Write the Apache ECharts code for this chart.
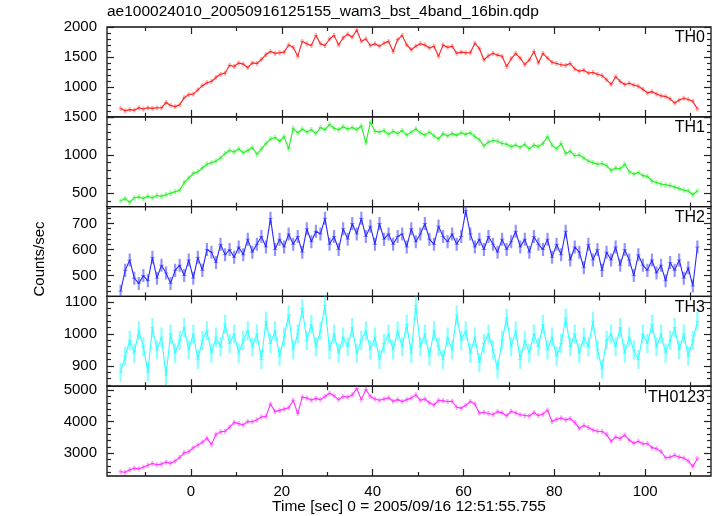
<!DOCTYPE html>
<html><head><meta charset="utf-8">
<script src="https://cdn.jsdelivr.net/npm/echarts@6/dist/echarts.min.js"></script>
<style>html,body{margin:0;padding:0;background:#fff}#c{width:717px;height:516px}</style>
</head><body><div id="c"></div>
<script>
// ---------------- DATA ----------------
const times = [-15.5,-14.5,-13.5,-12.5,-11.5,-10.5,-9.5,-8.5,-7.5,-6.5,-5.5,-4.5,-3.5,-2.5,-1.5,-0.5,
0.5,1.5,2.5,3.5,4.5,5.5,6.5,7.5,8.5,9.5,10.5,11.5,12.5,13.5,14.5,15.5,16.5,17.5,18.5,19.5,
20.5,21.5,22.5,23.5,24.5,25.5,26.5,27.5,28.5,29.5,30.5,31.5,32.5,33.5,34.5,35.5,36.5,37.5,38.5,39.5,
40.5,41.5,42.5,43.5,44.5,45.5,46.5,47.5,48.5,49.5,50.5,51.5,52.5,53.5,54.5,55.5,56.5,57.5,58.5,59.5,
60.5,61.5,62.5,63.5,64.5,65.5,66.5,67.5,68.5,69.5,70.5,71.5,72.5,73.5,74.5,75.5,76.5,77.5,78.5,79.5,
80.5,81.5,82.5,83.5,84.5,85.5,86.5,87.5,88.5,89.5,90.5,91.5,92.5,93.5,94.5,95.5,96.5,97.5,98.5,99.5,
100.5,101.5,102.5,103.5,104.5,105.5,106.5,107.5,108.5,109.5,110.5,111.5];

const th0 = [640,600,620,610,650,630,650,640,650,650,740,690,670,700,820,870,
880,950,1020,1070,1090,1160,1210,1230,1360,1340,1400,1380,1320,1400,1390,1460,1540,1590,1560,1570,
1580,1700,1660,1510,1760,1720,1690,1860,1720,1690,1800,1860,1700,1820,1880,1830,1950,1760,1800,1690,
1720,1680,1730,1760,1590,1790,1860,1700,1620,1680,1720,1700,1650,1680,1510,1700,1660,1680,1560,1580,
1570,1570,1730,1640,1450,1520,1560,1530,1510,1340,1470,1560,1480,1370,1450,1590,1400,1560,1480,1410,
1390,1370,1360,1390,1300,1260,1280,1230,1240,1210,1190,1120,1040,1170,1090,1040,1060,1030,1010,960,
900,920,880,850,840,800,730,780,810,790,760,630];

const th1 = [400,430,380,440,450,430,460,440,470,460,480,500,520,540,640,700,
760,780,830,880,900,920,960,1020,1060,1040,1080,1030,1060,1100,1010,1080,1150,1210,1230,1180,
1240,1080,1350,1290,1340,1300,1330,1280,1360,1330,1400,1350,1330,1370,1340,1360,1330,1380,1160,1430,
1310,1300,1320,1270,1310,1280,1320,1260,1300,1340,1290,1260,1300,1250,1210,1280,1250,1280,1260,1290,
1270,1290,1240,1200,1120,1170,1190,1180,1150,1140,1110,1130,1100,1140,1080,1130,1110,1150,1240,1130,
1080,1150,1020,1050,990,1000,960,920,900,880,890,860,800,830,820,880,780,750,770,730,
720,660,640,620,610,600,580,560,540,530,480,530];

const th2 = [440,520,560,490,470,500,480,570,490,540,510,470,520,540,500,560,
490,570,520,600,590,550,620,580,600,570,610,580,640,590,620,650,610,720,600,640,
610,660,620,650,590,680,630,670,660,720,620,650,600,680,640,700,660,720,650,690,
620,700,640,660,620,650,660,610,680,630,660,700,640,620,690,650,630,660,620,650,
750,660,610,640,600,650,620,590,640,600,630,670,610,640,590,650,620,600,640,570,
620,580,670,560,610,590,530,620,560,600,520,590,560,610,540,600,560,500,580,540,
520,560,510,540,480,550,520,560,490,530,460,610];

const th3 = [880,930,980,940,1010,960,880,1020,950,990,870,1000,940,980,1020,950,
1000,920,980,1010,940,990,960,1030,970,1000,940,980,1010,960,1000,920,1040,970,1010,930,
990,1060,950,1000,1080,980,1030,960,1010,1090,950,1000,940,990,960,1020,940,980,1010,950,
990,920,970,1000,950,1010,960,1030,940,1090,960,1000,930,1010,960,920,990,950,1060,980,
1010,940,990,910,970,1000,950,890,980,1050,960,1010,920,980,940,1000,960,1030,950,990,
930,970,1050,960,1000,940,990,960,1040,950,890,980,1000,960,1020,940,990,950,920,1000,
970,1030,960,1000,940,980,1020,950,1000,930,980,1040];

const th0123 = [2420,2400,2480,2530,2510,2560,2620,2680,2640,2660,2720,2690,2760,2870,3020,3050,
3180,3260,3350,3480,3280,3600,3680,3700,3830,3980,3940,3900,4010,4000,4060,4150,4170,4560,4320,4360,
4400,4440,4680,4260,4780,4750,4690,4740,4700,4800,4900,4820,4700,4800,4780,4850,5050,4700,5020,4800,
4720,4680,4720,4760,4650,4700,4640,4700,4750,4850,4680,4720,4600,4530,4680,4660,4640,4650,4460,4430,
4520,4640,4560,4270,4300,4260,4230,4320,4280,4190,4330,4280,4220,4200,4180,4290,4200,4240,4370,4010,
4080,4120,4060,4100,3980,3790,3880,3820,3740,3700,3690,3600,3380,3520,3470,3580,3420,3320,3380,3300,
3310,3180,3150,3060,2860,2880,2940,2880,2850,2760,2580,2840];

// error half-widths (counts/sec)
const errTH0 = 40, errTH1 = 35, errTH2 = 25, errTH3 = 30, errTH0123 = 80;

// tick labels
const xLabelTicks = [0,20,40,60,80,100];
const xMinorTicks = [-10,10,30,50,70,90,110];
const yLabelsTH0 = [1000,1500,2000];
const yLabelsTH1 = [500,1000,1500];
const yLabelsTH2 = [500,600,700];
const yLabelsTH3 = [900,1000,1100];
const yLabelsTH0123 = [3000,4000,5000];

const titleText = 'ae100024010_20050916125155_wam3_bst_4band_16bin.qdp';
const xTitle = 'Time [sec] 0 = 2005/09/16 12:51:55.755';
const yTitle = 'Counts/sec';

// ---------------- LAYOUT / STYLE ----------------
const FONT = "'Liberation Sans', Arial, Helvetica, sans-serif";
const PL = 107, PW = 604, PT = 27, PH = 89.8;
const XMIN = -18.5, XMAX = 114.5, HALFBIN = 0.5;

const panels = [
  {label:'TH0', values:th0, err:errTH0, color:'#ff2020', light:'rgba(255,70,70,0.45)', min:500, max:2000, majors:[500,1000,1500,2000], labels:yLabelsTH0, minorStep:100},
  {label:'TH1', values:th1, err:errTH1, color:'#22ee22', light:'rgba(60,240,60,0.45)', min:325, max:1500, majors:[500,1000,1500], labels:yLabelsTH1, minorStep:100},
  {label:'TH2', values:th2, err:errTH2, color:'#2a2aff', light:'rgba(60,60,255,0.55)', min:420, max:765, majors:[500,600,700], labels:yLabelsTH2, minorStep:20},
  {label:'TH3', values:th3, err:errTH3, color:'#33ffff', light:'rgba(60,255,255,0.6)', min:836, max:1118, majors:[900,1000,1100], labels:yLabelsTH3, minorStep:20},
  {label:'TH0123', values:th0123, err:errTH0123, color:'#ff33ff', light:'rgba(255,60,255,0.45)', min:2283, max:5125, majors:[3000,4000,5000], labels:yLabelsTH0123, minorStep:200}
];

function minorTicks(min, max, step){
  const out = [];
  for (let v = Math.ceil(min/step)*step; v <= max + 1e-9; v += step) out.push(v);
  return out;
}

const grid = [], xAxis = [], yAxis = [], series = [], graphic = [];
const axisLabelStyle = {fontFamily: FONT, fontSize: 15, color: '#000', formatter: v => String(v)};
const tickCol = '#222';
const noLine = {show:false, onZero:false};

panels.forEach((p, i) => {
  const top = PT + i*PH;
  grid.push({left: PL, width: PW, top: top, height: PH, show: true, borderColor: '#111', borderWidth: 1.3, backgroundColor: 'transparent'});
  const isLast = i === panels.length - 1;
  const xBase = {gridIndex: i, type: 'value', min: XMIN, max: XMAX, splitLine:{show:false}, axisLine:noLine};
  xAxis.push(Object.assign({}, xBase, {position:'bottom',
    axisTick:{show:true, inside:true, length:7, customValues:xLabelTicks, lineStyle:{color:tickCol, width:1.2}},
    axisLabel:{show:isLast, customValues:xLabelTicks, margin:8, ...axisLabelStyle}}));
  const xMajIdx = xAxis.length - 1;
  xAxis.push(Object.assign({}, xBase, {position:'bottom',
    axisTick:{show:true, inside:true, length:4, customValues:xMinorTicks, lineStyle:{color:tickCol, width:1.2}},
    axisLabel:{show:false}}));
  xAxis.push(Object.assign({}, xBase, {position:'top',
    axisTick:{show:true, inside:true, length:7, customValues:xLabelTicks, lineStyle:{color:tickCol, width:1.2}},
    axisLabel:{show:false}}));
  xAxis.push(Object.assign({}, xBase, {position:'top',
    axisTick:{show:true, inside:true, length:4, customValues:xMinorTicks, lineStyle:{color:tickCol, width:1.2}},
    axisLabel:{show:false}}));

  const minors = minorTicks(p.min, p.max, p.minorStep).filter(v => p.majors.indexOf(v) < 0);
  const yBase = {gridIndex: i, type:'value', min:p.min, max:p.max, splitLine:{show:false}, axisLine:noLine};
  yAxis.push(Object.assign({}, yBase, {position:'left',
    axisTick:{show:true, inside:true, length:7, customValues:p.majors, lineStyle:{color:tickCol, width:1.2}},
    axisLabel:{show:true, customValues:p.labels, margin:10, ...axisLabelStyle}}));
  const yMajIdx = yAxis.length - 1;
  yAxis.push(Object.assign({}, yBase, {position:'left',
    axisTick:{show:true, inside:true, length:4, customValues:minors, lineStyle:{color:tickCol, width:1.2}},
    axisLabel:{show:false}}));
  yAxis.push(Object.assign({}, yBase, {position:'right',
    axisTick:{show:true, inside:true, length:7, customValues:p.majors, lineStyle:{color:tickCol, width:1.2}},
    axisLabel:{show:false}}));
  yAxis.push(Object.assign({}, yBase, {position:'right',
    axisTick:{show:true, inside:true, length:4, customValues:minors, lineStyle:{color:tickCol, width:1.2}},
    axisLabel:{show:false}}));

  const data = times.map((t, k) => [t, p.values[k], p.err]);
  series.push({
    type:'custom', xAxisIndex:xMajIdx, yAxisIndex:yMajIdx, clip:true, z:2, silent:true,
    data: data,
    renderItem: function(params, api){
      const t = api.value(0), v = api.value(1), e = api.value(2);
      const a = api.coord([t, v - e]), b = api.coord([t, v + e]);
      const l = api.coord([t - HALFBIN, v]), r = api.coord([t + HALFBIN, v]);
      return {type:'group', children:[
        {type:'line', shape:{x1:a[0], y1:a[1], x2:b[0], y2:b[1]}, style:{stroke:p.light, lineWidth:2.2}},
        {type:'line', shape:{x1:l[0], y1:l[1], x2:r[0], y2:r[1]}, style:{stroke:p.light, lineWidth:1}}
      ]};
    }
  });
  series.push({
    type:'line', xAxisIndex:xMajIdx, yAxisIndex:yMajIdx, showSymbol:false, symbol:'none',
    clip:true, z:3, silent:true, data: data.map(d => [d[0], d[1]]),
    lineStyle:{color:p.color, width:1.1}
  });
  graphic.push({type:'text', x: 705, y: top + 11,
    style:{text:p.label, font: '16px ' + FONT, fill:'#000', align:'right', verticalAlign:'middle'}});
});

graphic.push({type:'text', x: PL, y: 12, style:{text:titleText, font:'15.5px ' + FONT, fill:'#000', align:'left', verticalAlign:'middle'}});
graphic.push({type:'text', x: 409, y: 507, style:{text:xTitle, font:'15.5px ' + FONT, fill:'#000', align:'center', verticalAlign:'middle'}});
graphic.push({type:'text', x: 40, y: 259, rotation: Math.PI/2,
  style:{text:yTitle, font:'15px ' + FONT, fill:'#000', align:'center', verticalAlign:'middle'}});

const chart = echarts.init(document.getElementById('c'), null, {renderer:'canvas', width:717, height:516});
chart.setOption({animation:false, backgroundColor:'#fff', grid, xAxis, yAxis, series, graphic});
</script>
</body></html>
